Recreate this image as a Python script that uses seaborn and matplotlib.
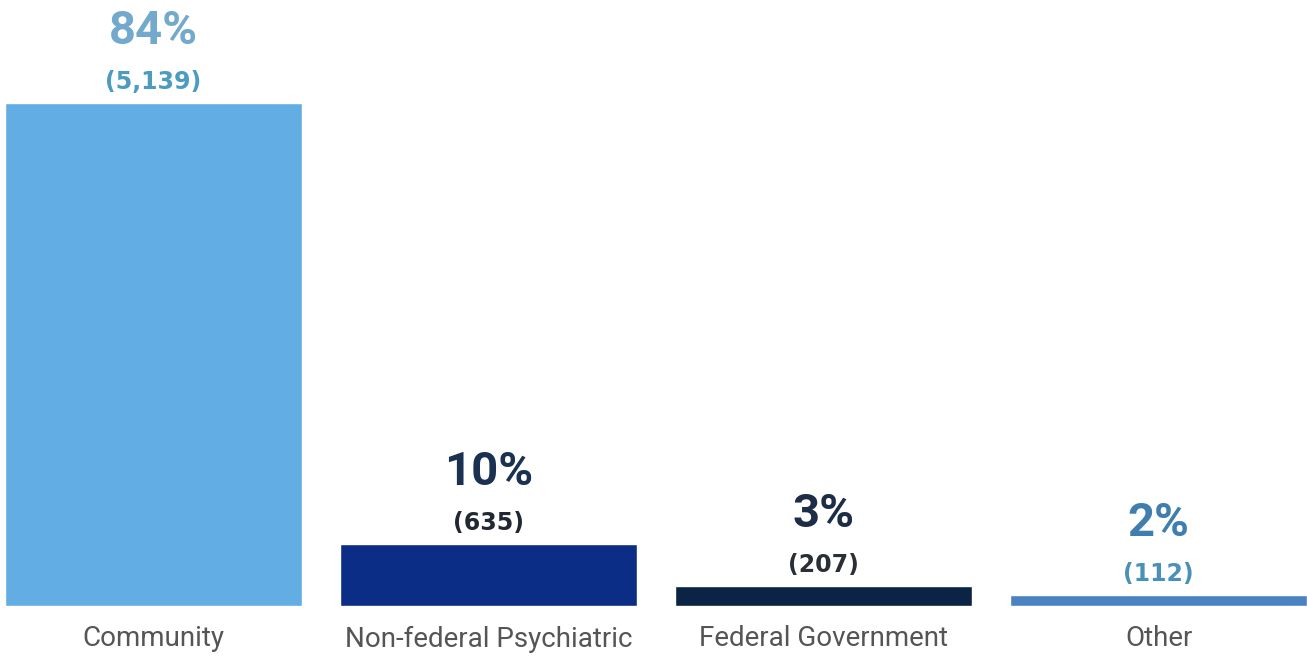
import matplotlib
matplotlib.use("Agg")
import matplotlib.pyplot as plt
import pandas as pd
import seaborn as sns

categories = ["Community", "Non-federal Psychiatric", "Federal Government", "Other"]
counts = [5139, 635, 207, 112]
percents = [84, 10, 3, 2]

bar_colors = ["#62AEE4", "#0C2D86", "#0B2446", "#4A82C2"]
pct_colors = ["#72A9CC", "#1B3152", "#1E2D47", "#3F7EAE"]
cnt_colors = ["#4C9BC0", "#222833", "#2A2E35", "#4A91B9"]

sns.set_theme(style="white")
plt.rcParams["font.family"] = ["Roboto", "DejaVu Sans"]

df = pd.DataFrame({"category": categories, "count": counts})

fig = plt.figure(figsize=(13.07, 6.56), dpi=100)
ax = fig.add_axes([0, 50 / 656, 1, 606 / 656])
sns.barplot(data=df, x="category", y="count", hue="category",
            palette=bar_colors, width=0.887, legend=False, saturation=1, ax=ax)

ax.set_xlim(-0.458, 3.443)
ax.set_ylim(0, 5139 * 606 / 503)
ax.set_xlabel("")
ax.set_ylabel("")
ax.set_yticks([])
sns.despine(ax=ax, left=True, bottom=True)
ax.tick_params(axis="x", length=0, pad=14, labelsize=20, labelcolor="#555555")

for i, (c, p) in enumerate(zip(counts, percents)):
    ax.annotate(f"{p}%", (i, c), xytext=(0, 52), textcoords="offset points",
                ha="center", va="center", fontsize=34, fontweight="bold",
                color=pct_colors[i])
    ax.annotate(f"({c:,})", (i, c), xytext=(0, 15), textcoords="offset points",
                ha="center", va="center", fontsize=17, fontweight="bold",
                color=cnt_colors[i], family=["DejaVu Sans"])

fig.savefig("out.png", dpi=100)
